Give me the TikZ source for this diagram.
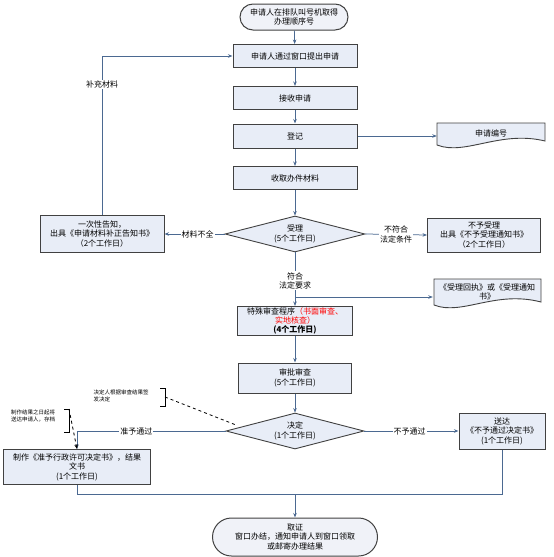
\documentclass[tikz,border=0pt]{standalone}
\usepackage{fontspec}
\setmainfont{Noto Sans CJK SC}
\usetikzlibrary{shapes.geometric,shapes.misc,arrows.meta}
\definecolor{boxfill}{RGB}{232,237,247}
\definecolor{termfill}{RGB}{240,242,248}
\definecolor{lnc}{RGB}{75,105,145}
\definecolor{bord}{RGB}{65,65,65}
\begin{document}
\begin{tikzpicture}[x=1pt,y=-1pt,
  every node/.style={font=\fontsize{8}{9.5}\selectfont, inner sep=0pt},
  box/.style={draw=bord,line width=1pt,fill=boxfill,align=center},
  term/.style={rounded rectangle,draw=bord,line width=1pt,fill=termfill,align=center},
  dia/.style={diamond,draw=bord,line width=0.9pt,fill=boxfill,align=center,aspect=3.8},
  arr/.style={draw=lnc,line width=0.75pt,-{Stealth[length=4.5pt,width=3.5pt]}},
  ln/.style={draw=lnc,line width=0.75pt},
  lbl/.style={fill=white,inner sep=1pt,align=center},
  note/.style={font=\fontsize{5.5}{6.5}\selectfont,align=left},
  docbox/.style={inner sep=0pt,align=center,text width=104pt,minimum width=108pt},
  docshape/.style={draw=bord,line width=0.9pt,fill=boxfill},
  callout/.style={draw=black,line width=0.8pt,dashed}
]
\useasboundingbox (0,0) rectangle (554,557);

% document shapes
\draw[docshape] (437,123) -- (545,123) -- (545,141) .. controls (500,130) and (465,156) .. (437,145) -- cycle;
\draw[docshape] (434,279) -- (541,279) -- (541,302) .. controls (495,290) and (462,316) .. (434,305) -- cycle;

% nodes
\node[term,minimum width=108pt,minimum height=26pt] (start) at (294,17) {申请人在排队叫号机取得\\办理顺序号};
\node[box,minimum width=124pt,minimum height=23pt] (b1) at (295,56) {申请人通过窗口提出申请};
\node[box,minimum width=124pt,minimum height=23pt] (b2) at (295,98) {接收申请};
\node[box,minimum width=124pt,minimum height=24pt] (b3) at (295,136) {登记};
\node[box,minimum width=124pt,minimum height=23pt] (b4) at (295,178) {收取办件材料};
\node[dia,minimum width=140pt,minimum height=36pt] (d1) at (295,234) {受理\\(5个工作日)};
\node[box,minimum width=124pt,minimum height=37pt] (lb) at (102,234) {一次性告知，\\出具《申请材料补正告知书》\\（2个工作日）};
\node[box,minimum width=113pt,minimum height=34pt] (rb) at (484,235) {不予受理\\出具《不予受理通知书》\\（2个工作日）};
\node[box,minimum width=115pt,minimum height=29pt,font=\fontsize{8}{9}\selectfont] (sp) at (295,321) {特殊审查程序\textcolor{red}{（书面审查、}\\\textcolor{red}{实地核查）}\\\textbf{(4个工作日)}};
\node[box,minimum width=113pt,minimum height=30pt] (ap) at (295,378) {审批审查\\(5个工作日)};
\node[dia,minimum width=138pt,minimum height=36pt] (d2) at (295,431) {决定\\(1个工作日)};
\node[box,minimum width=147pt,minimum height=35pt] (ab) at (77,467) {制作《准予行政许可决定书》，结果\\文书\\(1个工作日)};
\node[box,minimum width=86pt,minimum height=36pt] (rb2) at (502,431) {送达\\《不予通过决定书》\\(1个工作日)};
\node[term,minimum width=165pt,minimum height=38pt] (end) at (295,537) {取证\\窗口办结，通知申请人到窗口领取\\或邮寄办理结果};
\node[docbox,minimum height=20pt] (doc1) at (491,133) {申请编号};
\node[docbox,minimum height=20pt] (doc2) at (487,292) {《受理回执》或《受理通知\\书》};

% notes
\node[note] (n1) at (121,396) {决定人根据审查结果签\\发决定};
\node[note] (n2) at (33,416) {制作结果之日起将\\送达申请人，存档};

% coordinates
\coordinate (j1) at (295,297);
\coordinate (merge) at (295,494);
\coordinate (c1a) at (160,388);
\coordinate (c1b) at (165,388);
\coordinate (c1c) at (165,406);
\coordinate (c1d) at (160,406);
\coordinate (c1m) at (165,397);
\coordinate (c1e) at (236,425);
\coordinate (c2a) at (64,409);
\coordinate (c2b) at (69,409);
\coordinate (c2c) at (69,432);
\coordinate (c2d) at (64,432);

% main flow
\draw[arr] (start) -- (b1);
\draw[arr] (b1) -- (b2);
\draw[arr] (b2) -- (b3);
\draw[arr] (b3) -- (b4);
\draw[arr] (b4) -- (d1);
\draw[arr] (b3.east) -- (b3.east -| doc1.west);
\draw[arr] (d1.west) -- node[lbl,pos=0.45] {材料不全} (lb.east);
\draw[arr] (d1.east) -- node[lbl,pos=0.5] {不符合\\法定条件} (rb.west);
\draw[arr] (lb.north) |- node[lbl,pos=0.41] {补充材料} (b1.west);
\draw[arr] (d1.south) -- node[lbl,pos=0.53] {符合\\法定要求} (sp.north);
\draw[arr] (j1) -- (j1 -| doc2.west);
\draw[arr] (sp) -- (ap);
\draw[arr] (ap) -- (d2);
\draw[arr] (d2.west) -| node[lbl,pos=0.3] {准予通过} (ab.north);
\draw[arr] (d2.east) -- node[lbl,pos=0.48] {不予通过} (rb2.west);
\draw[ln] (ab.south) |- (merge);
\draw[ln] (rb2.south) |- (merge);
\draw[arr] (merge) -- (end.north);

% callouts
\draw[line width=0.8pt] (c1a) -- (c1b) -- (c1c) -- (c1d);
\draw[callout] (c1m) -- (c1e);
\draw[line width=0.8pt] (c2a) -- (c2b) -- (c2c) -- (c2d);
\draw[callout,-{Stealth[length=4.5pt,width=3.5pt]}] (c2b) -- (ab.north);
\end{tikzpicture}
\end{document}
